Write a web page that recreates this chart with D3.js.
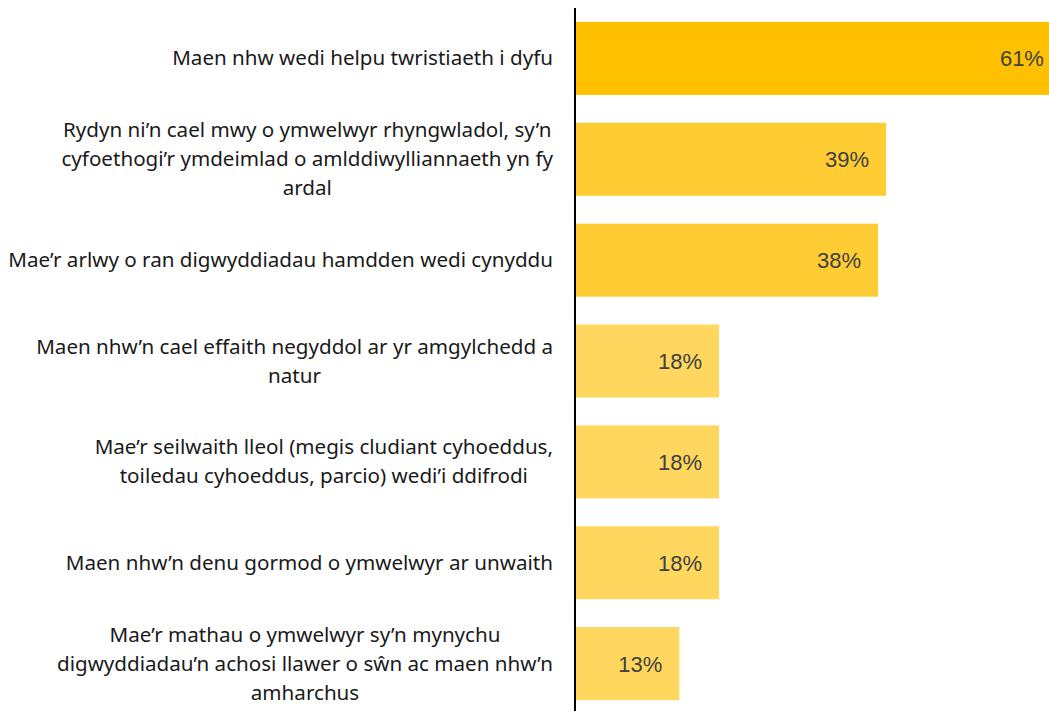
<!DOCTYPE html>
<html><head><meta charset="utf-8">
<script src="https://cdn.jsdelivr.net/npm/d3@7"></script>
<style>html,body{margin:0;padding:0;background:#fff;overflow:hidden}</style>
</head><body>
<svg id="chart" width="1049" height="711"></svg>
<script>
const categories = [
  ["Maen nhw wedi helpu twristiaeth i dyfu"],
  ["Rydyn ni’n cael mwy o ymwelwyr rhyngwladol, sy’n", "cyfoethogi’r ymdeimlad o amlddiwylliannaeth yn fy", "ardal"],
  ["Mae’r arlwy o ran digwyddiadau hamdden wedi cynyddu"],
  ["Maen nhw’n cael effaith negyddol ar yr amgylchedd a", "natur"],
  ["Mae’r seilwaith lleol (megis cludiant cyhoeddus,", "toiledau cyhoeddus, parcio) wedi’i ddifrodi"],
  ["Maen nhw’n denu gormod o ymwelwyr ar unwaith"],
  ["Mae’r mathau o ymwelwyr sy’n mynychu", "digwyddiadau’n achosi llawer o sŵn ac maen nhw’n", "amharchus"]
];
const values = [61, 39, 38, 18, 18, 18, 13];
const barColors = ["#FFC000", "#FFCD33", "#FFCD33", "#FFD75E", "#FFD75E", "#FFD75E", "#FFD75E"];

const svg = d3.select("#chart");
const ids = d3.range(values.length);
const y = d3.scaleBand().domain(ids).range([8, 714]).paddingInner(0.276).paddingOuter(0.138);
const x = d3.scaleLinear().domain([0, 100]).range([576, 1371]);

svg.append("g").selectAll("rect").data(ids).join("rect")
  .attr("x", x(0)).attr("y", d => y(d))
  .attr("width", d => x(values[d]) - x(0)).attr("height", y.bandwidth())
  .attr("fill", d => barColors[d]);

svg.append("g").selectAll("text").data(ids).join("text")
  .attr("x", d => x(values[d]) - 17)
  .attr("y", d => y(d) + y.bandwidth() / 2 + 8)
  .attr("text-anchor", "end")
  .attr("font-family", "Liberation Sans, Arial, sans-serif")
  .attr("font-size", 22)
  .attr("fill", "#404040")
  .text(d => values[d] + "%");

// category labels: block right-aligned, lines centered within block
const lh = 29;
const labG = svg.append("g");
ids.forEach(i => {
  const lines = categories[i];
  const g = labG.append("g");
  const texts = lines.map((t, k) => g.append("text")
    .attr("font-family", "Noto Sans, sans-serif")
    .attr("font-size", 20.6)
    .attr("fill", "#1a1a1a")
    .attr("text-anchor", "middle")
    .attr("y", y(i) + y.bandwidth() / 2 + (k - (lines.length - 1) / 2) * lh + 7)
    .text(t));
  const maxW = d3.max(texts, t => t.node().getComputedTextLength());
  texts.forEach(t => t.attr("x", 553 - maxW / 2));
});

svg.append("line").attr("x1", 575).attr("x2", 575).attr("y1", 8).attr("y2", 711)
  .attr("stroke", "#000").attr("stroke-width", 2);
</script>
</body></html>
